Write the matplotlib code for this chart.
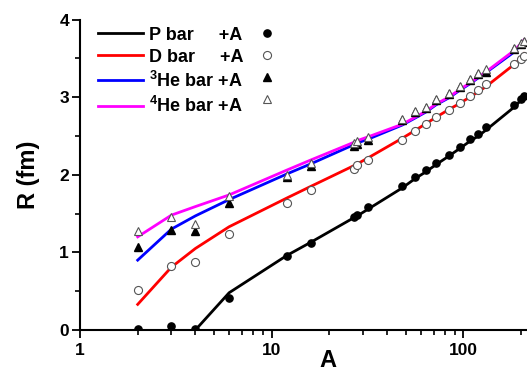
import numpy as np
import matplotlib.pyplot as plt
from matplotlib.lines import Line2D

plt.rcParams['font.family'] = ['Liberation Sans', 'DejaVu Sans']
plt.rcParams['font.weight'] = 'bold'
plt.rcParams['mathtext.fontset'] = 'custom'
plt.rcParams['mathtext.rm'] = 'Liberation Sans:bold'
plt.rcParams['mathtext.bf'] = 'Liberation Sans:bold'

# mass numbers of the targets
A = [2, 3, 4, 6, 12, 16, 27, 28, 32, 48, 56, 64, 72, 84, 96, 108, 120, 132, 184, 200, 208]

# data points (symbols)
p_pts = [0.01, 0.05, 0.01, 0.41, 0.95, 1.12, 1.46, 1.48, 1.58, 1.85, 1.97, 2.06, 2.15, 2.26, 2.36, 2.46, 2.52, 2.61, 2.90, 2.98, 3.02]
d_pts = [0.51, 0.83, 0.87, 1.24, 1.63, 1.80, 2.08, 2.12, 2.19, 2.45, 2.56, 2.65, 2.74, 2.84, 2.93, 3.01, 3.09, 3.17, 3.43, 3.49, 3.53]
he3_pts = [1.07, 1.29, 1.28, 1.63, 1.97, 2.11, 2.37, 2.40, 2.45, 2.71, 2.81, 2.86, 2.96, 3.04, 3.13, 3.22, 3.30, 3.33, 3.62, 3.69, 3.71]
he4_pts = [1.27, 1.45, 1.37, 1.72, 2.00, 2.15, 2.41, 2.43, 2.48, 2.72, 2.82, 2.87, 2.97, 3.05, 3.14, 3.23, 3.31, 3.36, 3.63, 3.70, 3.72]

# calculated curves
A_p = A[2:]
p_line = [0.0, 0.48, 0.96, 1.13, 1.45, 1.47, 1.56, 1.83, 1.95, 2.04, 2.13, 2.24, 2.34, 2.43, 2.50, 2.58, 2.87, 2.96, 3.02]
d_line = [0.33, 0.81, 1.05, 1.33, 1.70, 1.85, 2.12, 2.14, 2.22, 2.47, 2.57, 2.66, 2.74, 2.84, 2.92, 3.00, 3.07, 3.14, 3.42, 3.50, 3.56]
he3_line = [0.90, 1.30, 1.47, 1.68, 2.01, 2.14, 2.39, 2.41, 2.46, 2.64, 2.73, 2.81, 2.90, 2.99, 3.09, 3.17, 3.25, 3.32, 3.58, 3.68, 3.73]
he4_line = [1.20, 1.48, 1.59, 1.74, 2.06, 2.19, 2.42, 2.44, 2.49, 2.65, 2.74, 2.82, 2.91, 3.00, 3.10, 3.18, 3.26, 3.33, 3.60, 3.69, 3.74]

labels = ['P bar     +A', 'D bar     +A', r'$^{3}$He bar +A', r'$^{4}$He bar +A']
colors = ['black', 'red', 'blue', 'magenta']

fig = plt.figure(figsize=(5.27, 3.71), dpi=100)
ax = fig.add_axes([80 / 527, 1 - 330 / 371, 447 / 527, 310.5 / 371])

ax.plot(A_p, p_line, color=colors[0], lw=2)
ax.plot(A, d_line, color=colors[1], lw=2)
ax.plot(A, he3_line, color=colors[2], lw=2)
ax.plot(A, he4_line, color=colors[3], lw=2)

gray = '#555555'
ax.plot(A, p_pts, 'o', color='black', ms=5.2)
ax.plot(A, d_pts, 'o', mfc='white', mec=gray, mew=0.8, ms=5.8)
ax.plot(A, he3_pts, '^', color='black', ms=5.8)
ax.plot(A, he4_pts, '^', mfc='white', mec=gray, mew=0.8, ms=6.3)

ax.set_xscale('log')
ax.set_xlim(1, 215)
ax.set_ylim(0, 4)
ax.set_yticks([0, 1, 2, 3, 4])
ax.set_yticks([0.5, 1.5, 2.5, 3.5], minor=True)
ax.set_xticks([1, 10, 100])
ax.set_xticklabels(['1', '10', '100'])
ax.tick_params(which='major', direction='out', length=6, width=1.3, labelsize=12.5)
ax.tick_params(which='minor', direction='out', length=3.5, width=1.2)
ax.tick_params(axis='y', pad=2)
for s in ['top', 'right']:
    ax.spines[s].set_visible(False)
for s in ['left', 'bottom']:
    ax.spines[s].set_linewidth(1.5)

ax.set_ylabel('R (fm)', fontsize=17, fontweight='bold', labelpad=14)
ax.set_xlabel('A', fontsize=17, fontweight='bold')
ax.xaxis.set_label_coords(0.555, -0.06)

line_h = [Line2D([], [], color=c, lw=2) for c in colors]
leg1 = ax.legend(line_h, labels, loc='upper left', bbox_to_anchor=(0.015, 1.012),
                 frameon=False, fontsize=13, handlelength=2.5, handletextpad=0.35,
                 labelspacing=0.28, borderaxespad=0.2)
ax.add_artist(leg1)
mk_h = [Line2D([], [], ls='none', marker='o', color='black', ms=5.2),
        Line2D([], [], ls='none', marker='o', mfc='white', mec=gray, mew=0.8, ms=5.8),
        Line2D([], [], ls='none', marker='^', color='black', ms=5.8),
        Line2D([], [], ls='none', marker='^', mfc='white', mec=gray, mew=0.8, ms=6.3)]
ax.legend(mk_h, ['', '', '', ''], loc='upper left', bbox_to_anchor=(0.375, 1.012),
          frameon=False, fontsize=13, handlelength=1, handletextpad=0,
          labelspacing=0.28, borderaxespad=0.2)

fig.savefig('out.png', dpi=100)
